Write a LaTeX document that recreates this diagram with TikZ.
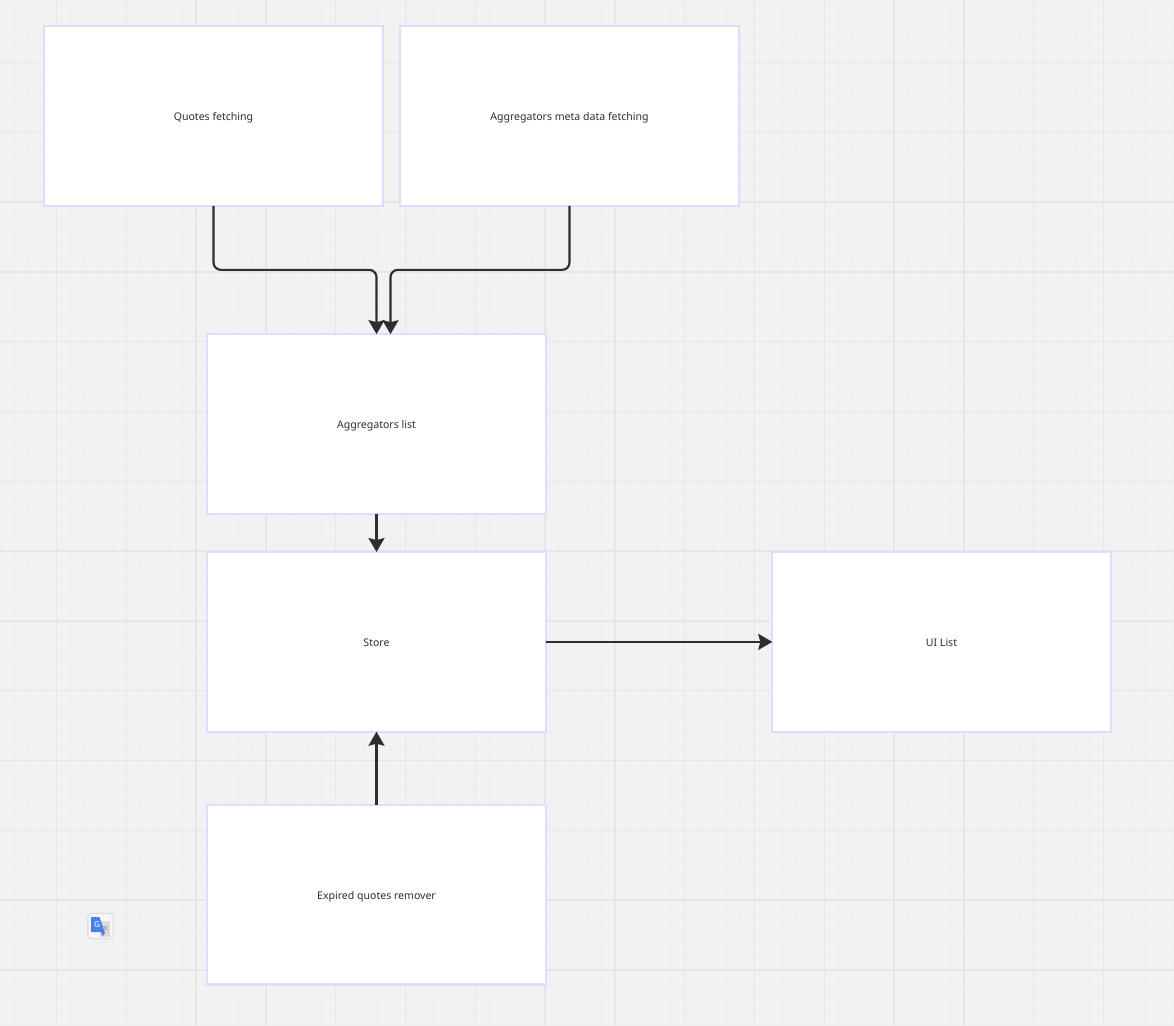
\documentclass[tikz,border=0pt]{standalone}
\usepackage{fontspec}
\setmainfont{Noto Sans}
\newfontfamily\cjk{Noto Sans CJK SC}
\usetikzlibrary{positioning,arrows.meta,calc}
\definecolor{boardbg}{HTML}{F2F2F2}
\definecolor{gridmajor}{HTML}{E6E6E6}
\definecolor{gridminor}{HTML}{EFEFEF}
\definecolor{boxedge}{HTML}{E0DDFC}
\definecolor{inkdark}{HTML}{2E2E2E}
\definecolor{iconblue}{HTML}{4A80EC}
\definecolor{icongrey}{HTML}{DADADA}

\begin{document}
\begin{tikzpicture}[
      x=0.03cm, y=-0.03cm,
      font=\fontsize{9pt}{11pt}\selectfont,
      card/.style={draw=boxedge, line width=0.07cm, fill=white, text=inkdark, outer sep=0pt,
                   minimum width=10.155cm, minimum height=5.39cm, align=center,
                   text height=1.85ex, text depth=0.4ex},
      arr/.style={-{Stealth[length=0.42cm, width=0.48cm, inset=0.06cm]}, line width=0.065cm, draw=inkdark},
      elbow/.style={arr, rounded corners=0.22cm},
      major/.style={draw=gridmajor, line width=0.04cm},
      minor/.style={draw=gridminor, line width=0.02cm},
    ]
    % ---------- board and grid ----------
    \fill[boardbg] (0,0) rectangle (1174,1025);
    \useasboundingbox (0,0) rectangle (1174,1025);
    \foreach \k in {-4,...,80} {
      \draw[minor] ({56.5+13.96*\k},0) -- ({56.5+13.96*\k},1025);
    }
    \foreach \k in {-4,...,70} {
      \draw[minor] (0,{62.5+13.96*\k}) -- (1174,{62.5+13.96*\k});
    }
    \foreach \k in {0,...,15} {
      \draw[major] ({56.5+69.8*\k},0) -- ({56.5+69.8*\k},1025);
    }
    \foreach \k in {0,...,13} {
      \draw[major] (0,{62.5+69.8*\k}) -- (1174,{62.5+69.8*\k});
    }

    % ---------- cards ----------
    \node[card] (quotes) at (213.5,116) {Quotes fetching};
    \node[card, right=0.525cm of quotes] (meta) {Aggregators meta data fetching};
    \node[card] (list) at (376.5,424) {Aggregators list};
    \node[card, below=1.146cm of list] (store) {Store};
    \node[card, right=6.795cm of store] (uilist) {UI List};
    \node[card, below=2.196cm of store] (remover) {Expired quotes remover};

    % ---------- connectors ----------
    \coordinate (listin) at ($(list.north)+(14,0)$);
    \coordinate (busY) at ($(quotes.south)+(0,64)$);
    \draw[elbow] (quotes.south) -- (quotes.south |- busY) -- (list.north |- busY) -- (list.north);
    \draw[elbow] (meta.south) -- (meta.south |- busY) -- (listin |- busY) -- (listin);
    \draw[arr] (list) -- (store);
    \draw[arr] (store) -- (uilist);
    \draw[arr] (remover) -- (store);

    % ---------- translate icon ----------
    \node[draw=black!12, line width=0.04cm, fill=boardbg!60!white, rounded corners=0.12cm,
          minimum width=0.76cm, minimum height=0.76cm, outer sep=0pt] (icon) at (100.5,926) {};
    \fill[icongrey] (100,921) rectangle (110,937);
    \node[font=\cjk\fontsize{4.2pt}{5pt}\selectfont, text=black!55, inner sep=0pt] (iconzh) at (105.5,929) {文};
    \fill[iconblue] (91,917) -- (99.5,917) -- (105,933) -- (102.5,936) -- (101,932) -- (91,932) -- cycle;
    \node[font=\bfseries\fontsize{7pt}{8pt}\selectfont, text=white, inner sep=0pt] (icong) at (97,925) {G};
  \end{tikzpicture}
\end{document}
